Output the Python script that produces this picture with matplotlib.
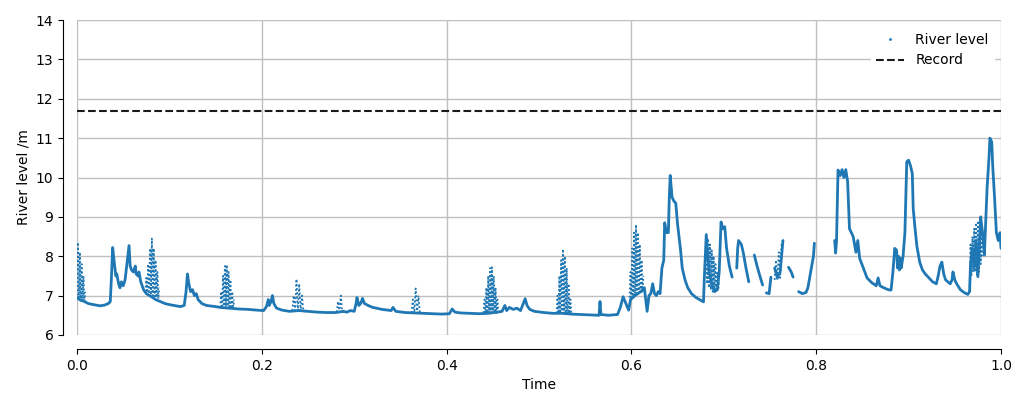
import numpy as np
import matplotlib
matplotlib.use("Agg")
import matplotlib.pyplot as plt
from matplotlib.lines import Line2D

nan = np.nan

# Main river level trace (time fraction, level in m); NaN = data gap
time = [0.000, 0.004, 0.008, 0.012, 0.018, 0.025, 0.030, 0.034, 0.036, 0.0375,
        0.0386, 0.040, 0.042, 0.043, 0.045, 0.0465, 0.048, 0.050, 0.052, 0.0545,
        0.0563, 0.0575, 0.059, 0.061, 0.063, 0.064, 0.066, 0.067, 0.069, 0.072,
        0.075, 0.080, 0.085, 0.090, 0.095, 0.100, 0.105, 0.112, 0.116, 0.118,
        0.1195, 0.121, 0.123, 0.125, 0.127, 0.129, 0.131, 0.135, 0.140, 0.150,
        0.155, 0.165, 0.175, 0.185, 0.195, 0.202, 0.205, 0.207, 0.208, 0.210,
        0.2115, 0.213, 0.216, 0.222, 0.230, 0.240, 0.250, 0.260, 0.270, 0.280,
        0.288, 0.292, 0.296, 0.300, 0.302, 0.303, 0.305, 0.307, 0.309, 0.311,
        0.315, 0.320, 0.330, 0.340, 0.342, 0.345, 0.355, 0.365, 0.375, 0.385,
        0.395, 0.403, 0.406, 0.409, 0.415, 0.425, 0.435, 0.445, 0.455, 0.460,
        0.463, 0.465, 0.468, 0.472, 0.476, 0.480, 0.483, 0.485, 0.487, 0.490,
        0.495, 0.505, 0.515, 0.525, 0.535, 0.545, 0.555, 0.565, 0.566, 0.567,
        0.575, 0.585, 0.588, 0.591, 0.594, 0.597, 0.599, 0.604, 0.610, 0.614,
        0.617, 0.619, 0.621, 0.623, 0.625, 0.627, 0.629, 0.631, 0.633, 0.635,
        0.636, 0.638, 0.640, 0.641, 0.642, 0.644, 0.646, 0.648, 0.650, 0.653,
        0.655, 0.658, 0.661, 0.665, 0.670, 0.675, 0.678, 0.679, 0.681, 0.684,
        0.687, 0.690, 0.693, 0.695, 0.697, 0.699, 0.701, 0.703, 0.706, 0.709,
        0.711,
        0.714, 0.715, 0.716, 0.719, 0.721, 0.724, 0.727,
        0.730,
        0.733, 0.736, 0.739, 0.742,
        0.744,
        0.746, 0.749, 0.751,
        0.753,
        0.755, 0.758, 0.761, 0.764,
        0.767,
        0.770, 0.773, 0.775,
        0.778,
        0.781, 0.785, 0.789, 0.791, 0.794, 0.797, 0.798,
        0.810,
        0.820, 0.821, 0.822, 0.8236, 0.826, 0.828, 0.830, 0.832, 0.834, 0.836,
        0.838, 0.840, 0.843, 0.845, 0.847, 0.851, 0.855, 0.860, 0.865, 0.867,
        0.869, 0.873, 0.878, 0.881, 0.883, 0.885, 0.887, 0.888, 0.889, 0.890,
        0.891, 0.892, 0.894, 0.896, 0.898, 0.900, 0.902, 0.904, 0.905, 0.907,
        0.909, 0.912, 0.915, 0.918, 0.922, 0.926, 0.930, 0.932, 0.934, 0.936,
        0.938, 0.940, 0.945, 0.947, 0.948, 0.950, 0.952, 0.956, 0.960, 0.964,
        0.966, 0.967, 0.969, 0.971, 0.973, 0.975, 0.977, 0.978, 0.980, 0.982,
        0.984, 0.985, 0.987, 0.988, 0.990, 0.991, 0.993, 0.995, 0.997, 0.999,
        1.000]
level = [6.95, 6.88, 6.85, 6.80, 6.77, 6.74, 6.76, 6.80, 6.85, 7.60,
         8.22, 7.90, 7.50, 7.55, 7.30, 7.20, 7.35, 7.25, 7.40, 7.90,
         8.27, 7.75, 7.65, 7.60, 7.75, 7.55, 7.50, 7.60, 7.35, 7.15,
         7.05, 6.98, 6.90, 6.85, 6.80, 6.77, 6.75, 6.72, 6.75, 7.10,
         7.55, 7.30, 7.10, 7.15, 7.00, 7.05, 6.90, 6.80, 6.75, 6.72,
         6.70, 6.68, 6.66, 6.65, 6.63, 6.62, 6.72, 6.90, 6.75, 6.85,
         7.00, 6.80, 6.68, 6.63, 6.60, 6.62, 6.60, 6.58, 6.57, 6.57,
         6.60, 6.58, 6.62, 6.60, 6.80, 6.95, 6.75, 6.80, 6.93, 6.80,
         6.75, 6.70, 6.65, 6.62, 6.70, 6.60, 6.57, 6.56, 6.55, 6.54,
         6.53, 6.54, 6.66, 6.58, 6.56, 6.55, 6.54, 6.55, 6.58, 6.60,
         6.75, 6.62, 6.70, 6.65, 6.68, 6.62, 6.80, 6.92, 6.75, 6.65,
         6.60, 6.57, 6.55, 6.55, 6.53, 6.52, 6.51, 6.50, 6.85, 6.52,
         6.50, 6.52, 6.70, 6.97, 6.80, 6.63, 6.90, 7.00, 7.10, 7.20,
         6.60, 7.00, 7.05, 7.30, 7.05, 7.00, 7.10, 7.05, 7.70, 7.90,
         8.85, 8.60, 8.60, 9.50, 10.05, 9.50, 9.40, 9.35, 8.80, 8.20,
         7.70, 7.40, 7.20, 7.05, 6.95, 6.88, 6.84, 7.50, 8.55, 7.60,
         7.30, 7.10, 7.15, 7.60, 8.87, 8.70, 8.75, 8.20, 7.75, 7.47,
         nan,
         7.70, 8.20, 8.40, 8.30, 8.10, 7.70, 7.35,
         nan,
         8.03, 7.75, 7.50, 7.27,
         nan,
         7.07, 7.05, 7.47,
         nan,
         7.70, 7.45, 7.60, 8.40,
         nan,
         7.72, 7.60, 7.47,
         nan,
         7.10, 7.05, 7.08, 7.20, 7.60, 8.00, 8.33,
         nan,
         8.40, 8.08, 8.40, 10.19, 10.05, 10.20, 10.00, 10.20, 9.90, 8.70,
         8.60, 8.50, 8.10, 8.40, 7.95, 7.70, 7.45, 7.33, 7.25, 7.45,
         7.25, 7.20, 7.15, 7.14, 7.60, 8.20, 8.15, 7.70, 8.00, 7.65,
         7.95, 7.70, 8.00, 8.60, 10.40, 10.44, 10.30, 10.10, 9.20, 8.70,
         8.25, 7.85, 7.65, 7.55, 7.45, 7.35, 7.30, 7.50, 7.75, 7.85,
         7.55, 7.40, 7.30, 7.40, 7.60, 7.40, 7.30, 7.15, 7.08, 7.03,
         7.10, 7.80, 8.20, 7.70, 8.40, 7.48, 8.50, 9.00, 8.60, 8.03,
         9.20, 9.77, 10.50, 11.00, 10.90, 10.30, 9.50, 8.60, 8.40, 8.60,
         8.20]

# Tidal oscillation bursts (rapid up/down swings), NaN separates bursts
burst_time = [0.000, 0.001, 0.002, 0.003, 0.004, 0.005, 0.006, 0.007, 0.008, 0.009, nan,
              0.074, 0.075, 0.076, 0.077, 0.078, 0.079, 0.080, 0.081, 0.082, 0.083,
              0.084, 0.085, 0.086, 0.087, 0.088, 0.089, nan,
              0.155, 0.156, 0.157, 0.158, 0.159, 0.160, 0.161, 0.162, 0.163, 0.164,
              0.165, 0.166, 0.167, 0.168, 0.169, 0.170, nan,
              0.233, 0.2345, 0.236, 0.2375, 0.239, 0.2405, 0.242, 0.2435, 0.245, 0.247, nan,
              0.281, 0.2825, 0.284, 0.2855, 0.287, 0.288, nan,
              0.362, 0.3635, 0.365, 0.3665, 0.368, 0.3695, 0.371, 0.373, nan,
              0.440, 0.441, 0.442, 0.443, 0.444, 0.445, 0.446, 0.447, 0.448, 0.449,
              0.450, 0.451, 0.452, 0.453, 0.454, 0.455, 0.456, nan,
              0.519, 0.520, 0.521, 0.522, 0.523, 0.524, 0.525, 0.526, 0.527, 0.528,
              0.529, 0.530, 0.531, 0.532, 0.533, 0.534, 0.535, nan,
              0.598, 0.599, 0.600, 0.601, 0.602, 0.603, 0.604, 0.605, 0.606, 0.607,
              0.608, 0.609, 0.610, 0.611, 0.612, 0.613, nan,
              0.681, 0.682, 0.683, 0.684, 0.685, 0.686, 0.687, 0.688, 0.689, 0.690,
              0.691, 0.692, 0.693, 0.694, 0.695, nan,
              0.755, 0.7565, 0.758, 0.7595, 0.761, 0.7625, 0.764, nan,
              0.966, 0.967, 0.968, 0.969, 0.970, 0.971, 0.972, 0.973, 0.974, 0.975,
              0.976, 0.977, 0.978, 0.979, 0.980]
burst_level = [6.90, 8.35, 6.90, 8.10, 6.88, 7.80, 6.87, 7.50, 6.86, 7.10, nan,
               7.10, 7.45, 7.08, 7.80, 7.05, 8.20, 7.02, 8.45, 7.00, 8.20,
               6.98, 7.90, 6.95, 7.60, 6.92, 7.20, nan,
               6.70, 7.10, 6.69, 7.50, 6.68, 7.75, 6.68, 7.78, 6.68, 7.60,
               6.67, 7.40, 6.67, 7.10, 6.66, 6.90, nan,
               6.62, 7.00, 6.62, 7.42, 6.62, 7.30, 6.61, 7.00, 6.60, 6.60, nan,
               6.58, 6.85, 6.58, 7.00, 6.58, 6.58, nan,
               6.56, 6.90, 6.56, 7.18, 6.56, 7.00, 6.55, 6.55, nan,
               6.56, 6.90, 6.56, 7.20, 6.56, 7.50, 6.56, 7.70, 6.56, 7.72,
               6.56, 7.50, 6.56, 7.20, 6.56, 6.90, 6.56, nan,
               6.55, 7.00, 6.55, 7.50, 6.55, 7.90, 6.55, 8.18, 6.55, 8.00,
               6.55, 7.70, 6.54, 7.30, 6.54, 6.90, 6.54, nan,
               6.95, 7.60, 6.95, 8.20, 6.97, 8.60, 7.00, 8.80, 7.00, 8.60,
               7.02, 8.30, 7.05, 7.90, 7.10, 7.50, nan,
               8.55, 7.30, 8.45, 7.20, 8.30, 7.15, 8.15, 7.10, 8.00, 7.10,
               7.80, 7.10, 7.60, 7.15, 7.40, nan,
               7.40, 7.90, 7.40, 8.10, 7.45, 8.30, 8.40, nan,
               7.10, 8.30, 7.50, 8.50, 7.60, 8.70, 7.60, 8.85, 7.50, 8.90,
               7.60, 8.70, 7.80, 8.60, 8.00]

record_level = 11.68

x_ticks = [0.0, 0.2, 0.4, 0.6, 0.8, 1.0]
x_tick_labels = ["0.0", "0.2", "0.4", "0.6", "0.8", "1.0"]
y_ticks = [6, 7, 8, 9, 10, 11, 12, 13, 14]

blue = "#1f77b4"

fig = plt.figure(figsize=(10.23, 4.09), dpi=100)
ax = fig.add_axes([0.0753, 0.181, 0.9032, 0.770])

ax.plot(time, level, color=blue, lw=2.0, solid_capstyle="round", zorder=3)
ax.plot(burst_time, burst_level, color=blue, lw=1.3, ls=(0, (1, 1.3)), zorder=3)
ax.axhline(record_level, color="#1a1a1a", ls="--", lw=1.5, zorder=4)

ax.set_xlim(0, 1)
ax.set_ylim(6, 14)
ax.set_xticks(x_ticks)
ax.set_xticklabels(x_tick_labels)
ax.set_yticks(y_ticks)
ax.grid(True, color="#c0c0c0", lw=1.0)
ax.set_axisbelow(True)

for side in ["top", "right"]:
    ax.spines[side].set_visible(False)
ax.spines["left"].set_position(("outward", 10))
ax.spines["bottom"].set_position(("outward", 10))

ax.tick_params(labelsize=10)
ax.set_xlabel("Time", fontsize=10)
ax.set_ylabel("River level /m", fontsize=10)

handles = [Line2D([], [], color=blue, marker=".", ls="none", markersize=2),
           Line2D([], [], color="#1a1a1a", ls="--", lw=1.5)]
leg = ax.legend(handles, ["River level", "Record"], loc="upper right",
                frameon=True, framealpha=1.0, fontsize=10)
leg.get_frame().set_edgecolor("white")
leg.get_frame().set_facecolor("white")

fig.savefig("out.png", dpi=100)
